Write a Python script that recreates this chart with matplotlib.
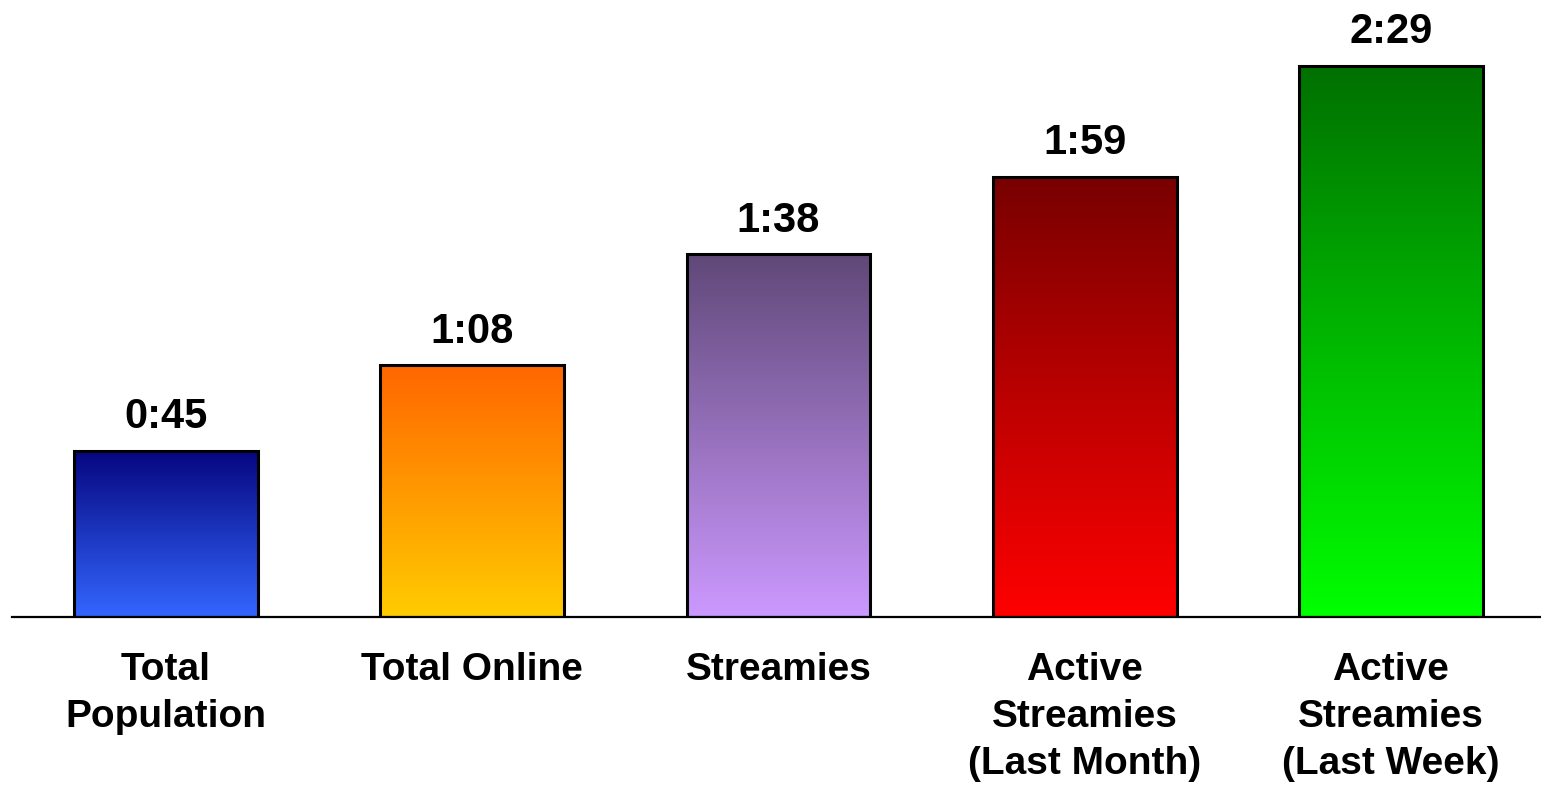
import numpy as np
import matplotlib.pyplot as plt
from matplotlib.colors import LinearSegmentedColormap

plt.rcParams['font.family'] = ['Liberation Sans', 'DejaVu Sans']

# data: average time, in minutes
categories = ['Total\nPopulation', 'Total Online', 'Streamies',
              'Active\nStreamies\n(Last Month)', 'Active\nStreamies\n(Last Week)']
minutes = [45, 68, 98, 119, 149]
value_labels = ['0:45', '1:08', '1:38', '1:59', '2:29']

# gradient colours (top, bottom) for each bar
top_colors = ['#06067f', '#ff6600', '#604878', '#780000', '#007000']
bottom_colors = ['#3366ff', '#ffcc00', '#cc99ff', '#ff0000', '#00ff00']

fig = plt.figure(figsize=(15.41, 7.87), dpi=100)
ax = fig.add_axes([0.0078, 0.216, 0.9922, 0.784])

x = np.arange(len(categories))
width = 0.6

bars = ax.bar(x, minutes, width=width, color='none', edgecolor='black',
              linewidth=2.2, zorder=3)

# fill each bar with a vertical gradient
grad = np.linspace(0, 1, 256).reshape(-1, 1)
for bar, c_top, c_bot in zip(bars, top_colors, bottom_colors):
    cmap = LinearSegmentedColormap.from_list('g', [c_bot, c_top])
    x0 = bar.get_x()
    h = bar.get_height()
    ax.imshow(grad, cmap=cmap, aspect='auto', origin='lower',
              extent=(x0, x0 + width, 0, h), zorder=2)

# value labels
for xi, v, lab in zip(x, minutes, value_labels):
    ax.annotate(lab, (xi, v), xytext=(0, 16.5), textcoords='offset points',
                ha='center', va='baseline', fontsize=30, fontweight='bold')

ax.set_xlim(-0.503, 4.49)
ax.set_ylim(0, 166.8)

ax.set_xticks(x)
ax.set_xticklabels(categories, fontsize=28, fontweight='bold', linespacing=1.39)
ax.tick_params(axis='x', length=0, pad=25)
ax.set_yticks([])

for side in ['top', 'right', 'left']:
    ax.spines[side].set_visible(False)
ax.spines['bottom'].set_linewidth(1.6)
ax.spines['bottom'].set_zorder(4)

fig.savefig('out.png', dpi=100)
